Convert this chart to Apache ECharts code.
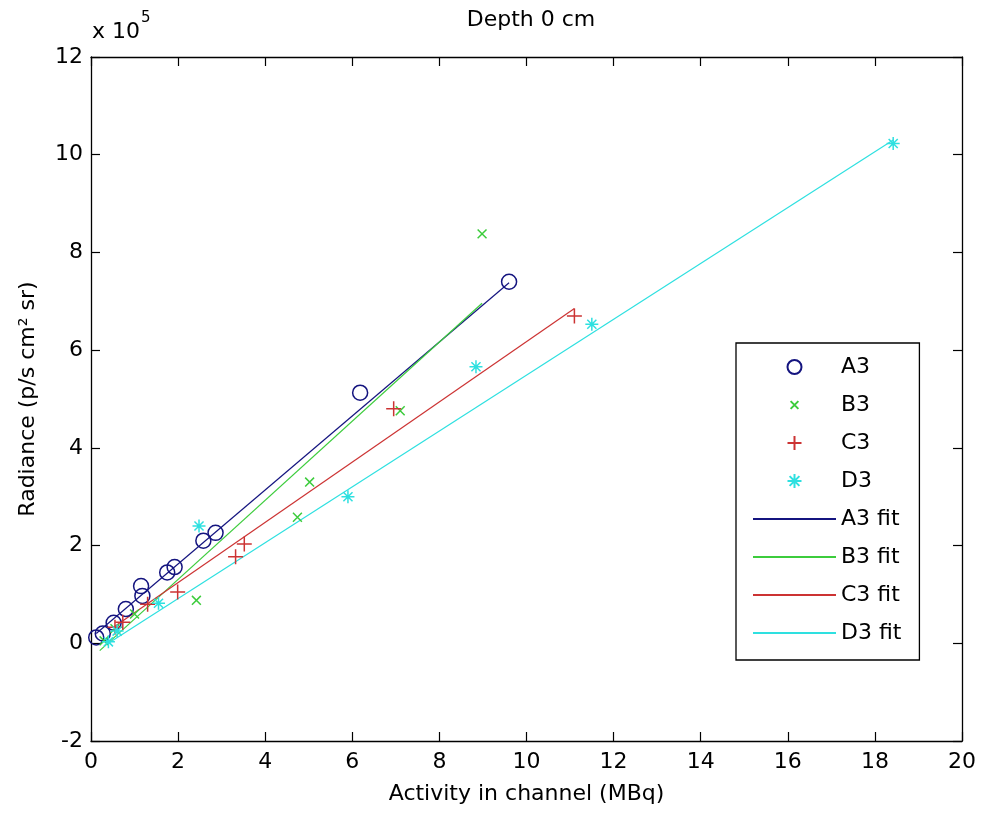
<!DOCTYPE html>
<html><head><meta charset="utf-8">
<script src="https://cdn.jsdelivr.net/npm/echarts@6/dist/echarts.min.js"></script>
<style>html,body{margin:0;padding:0;background:#fff}#c{width:981px;height:816px}</style>
</head><body><div id="c"></div>
<script>
// ---- data (radiance in units of 1e5 p/s cm^2 sr, activity in MBq) ----
const titleText = 'Depth 0 cm';
const xAxisTitle = 'Activity in channel (MBq)';
const yAxisTitle = 'Radiance (p/s cm\u00B2 sr)';
const xTicks = [0, 2, 4, 6, 8, 10, 12, 14, 16, 18, 20];
const yTicks = [-2, 0, 2, 4, 6, 8, 10, 12];

const A3 = [[0.12,0.12],[0.27,0.2],[0.52,0.42],[0.8,0.7],[1.15,1.17],[1.18,0.97],[1.75,1.45],[1.92,1.56],[2.58,2.1],[2.86,2.26],[6.18,5.13],[9.6,7.4]];
const B3 = [[0.3,0.05],[0.55,0.3],[1.0,0.6],[2.42,0.88],[4.74,2.58],[5.02,3.3],[7.1,4.76],[8.98,8.38]];
const C3 = [[0.55,0.33],[0.73,0.43],[1.3,0.8],[1.99,1.05],[3.32,1.77],[3.52,2.03],[6.95,4.8],[11.1,6.7]];
const D3 = [[0.4,0.03],[0.6,0.25],[1.55,0.82],[2.48,2.4],[5.9,3.0],[8.84,5.66],[11.5,6.53],[18.42,10.23]];

const A3fit = [[0.12,0.2],[9.6,7.38]];
const B3fit = [[0.2,-0.15],[8.98,6.96]];
const C3fit = [[0.55,0.35],[11.1,6.85]];
const D3fit = [[0.4,0.0],[18.42,10.3]];

const pointNames = ['A3','B3','C3','D3'];
const fitNames = ['A3 fit','B3 fit','C3 fit','D3 fit'];

// ---- styling ----
const FONT = 'DejaVu Sans';
const FS = 22;
const NAVY = '#14147f', GREEN = '#3ccc3c', RED = '#cc3333', CYAN = '#2ee0e0';
const XPATH = 'path://M-4,-4M14,14M0,0L10,10M10,0L0,10';
const PLUS = 'path://M0,5L10,5M5,0L5,10';
const STAR = 'path://M0,5L10,5M5,0L5,10M1.5,1.5L8.5,8.5M8.5,1.5L1.5,8.5';

function scatter(name, data, symbol, size, color) {
  return {
    name, type: 'scatter', data, symbol, symbolSize: size,
    color: color,
    itemStyle: { color: symbol === 'circle' ? 'rgba(0,0,0,0)' : color, borderColor: color, borderWidth: 1.5, opacity: 1 },
    emphasis: { disabled: true }, z: 3
  };
}
function fit(name, data, color) {
  return {
    name, type: 'line', data, symbol: 'none', showSymbol: false, color: color,
    lineStyle: { color, width: 1.2 }, itemStyle: { color },
    emphasis: { disabled: true }, z: 2
  };
}

const axisCommon = {
  axisLine: { show: true, onZero: false, lineStyle: { color: '#000', width: 1.3 } },
  axisTick: { show: true, inside: true, length: 9, lineStyle: { color: '#000', width: 1.2 } },
  splitLine: { show: false }
};

const chart = echarts.init(document.getElementById('c'), null, { renderer: 'canvas' });
chart.setOption({
  animation: false,
  backgroundColor: '#fff',
  title: {
    text: titleText, left: 526, top: 4, textAlign: 'center',
    textStyle: { fontFamily: FONT, fontSize: FS, fontWeight: 'normal', color: '#000' }
  },
  grid: { left: 91, top: 57, right: 19, bottom: 75, containLabel: false },
  xAxis: [
    Object.assign({}, axisCommon, {
      type: 'value', min: xTicks[0], max: xTicks[xTicks.length-1], interval: 2, position: 'bottom',
      name: xAxisTitle, nameLocation: 'middle', nameGap: 42,
      nameTextStyle: { fontFamily: FONT, fontSize: FS, color: '#000' },
      axisLabel: { fontFamily: FONT, fontSize: FS, color: '#000', margin: 10 }
    }),
    Object.assign({}, axisCommon, {
      type: 'value', min: xTicks[0], max: xTicks[xTicks.length-1], interval: 2, position: 'top',
      axisLabel: { show: false }
    })
  ],
  yAxis: [
    Object.assign({}, axisCommon, {
      type: 'value', min: yTicks[0], max: yTicks[yTicks.length-1], interval: 2, position: 'left',
      name: yAxisTitle, nameLocation: 'middle', nameGap: 52,
      nameTextStyle: { fontFamily: FONT, fontSize: FS, color: '#000' },
      axisLabel: { fontFamily: FONT, fontSize: FS, color: '#000', margin: 8 }
    }),
    Object.assign({}, axisCommon, {
      type: 'value', min: yTicks[0], max: yTicks[yTicks.length-1], interval: 2, position: 'right',
      axisLabel: { show: false }
    })
  ],
  legend: {
    orient: 'vertical', left: 736, top: 343,
    data: pointNames.map(n => ({ name: n })).concat(fitNames.map(n => ({ name: n, itemStyle: { opacity: 0 } }))),
    selectedMode: false,
    itemWidth: 83, itemHeight: 14, itemGap: 16,
    padding: [13, 18, 16, 16],
    borderColor: '#000', borderWidth: 1.3, backgroundColor: '#fff',
    textStyle: { fontFamily: FONT, fontSize: FS, color: '#000', lineHeight: 22 }
  },
  graphic: [
    { type: 'text', left: 92, top: 21, style: { text: 'x 10', fontFamily: FONT, fontSize: FS, fill: '#000' } },
    { type: 'text', left: 141, top: 11, style: { text: '5', fontFamily: FONT, fontSize: 15, fill: '#000' } }
  ],
  series: [
    scatter('A3', A3, 'circle', 15, NAVY),
    scatter('B3', B3, XPATH, 16, GREEN),
    scatter('C3', C3, PLUS, 15, RED),
    scatter('D3', D3, STAR, 13, CYAN),
    fit('A3 fit', A3fit, NAVY),
    fit('B3 fit', B3fit, GREEN),
    fit('C3 fit', C3fit, RED),
    fit('D3 fit', D3fit, CYAN)
  ]
});
</script>
</body></html>
